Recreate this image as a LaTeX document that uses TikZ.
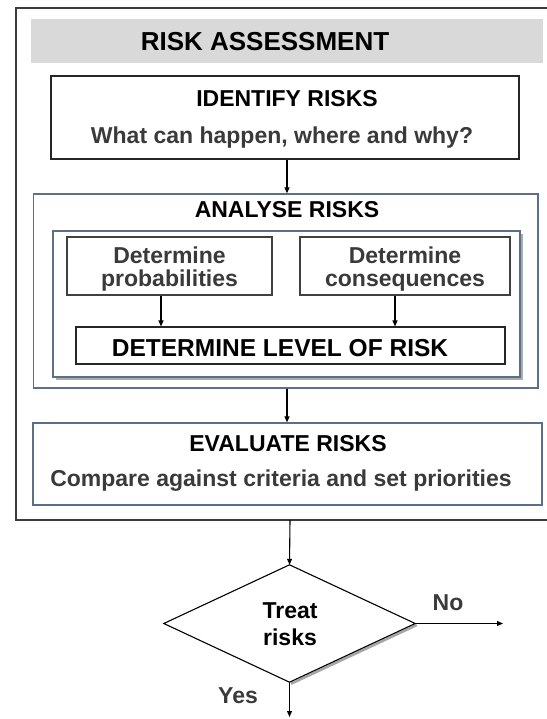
\documentclass[tikz,border=0pt]{standalone}
\usepackage{fontspec}
\setmainfont{Liberation Sans}
\usetikzlibrary{shapes.geometric,arrows.meta,calc}
\definecolor{bgray}{HTML}{5B6F85}
\definecolor{bannergray}{HTML}{D9D9D9}
\definecolor{subtext}{HTML}{3A3A3A}
\definecolor{framegray}{HTML}{3C3C3C}
\tikzset{
  txt/.style={font=\fontsize{23}{27}\selectfont\bfseries, inner sep=0pt, anchor=base},
  subtxt/.style={txt, text=subtext},
  blackbox/.style={draw=black!85, line width=1.1pt, inner sep=0pt, fill=white},
  bluebox/.style={draw=bgray, line width=1.3pt, inner sep=0pt, fill=white},
  arr/.style={line width=1.1pt, -{Triangle[length=6pt,width=5pt]}},
}
\begin{document}
\begin{tikzpicture}[x=1pt,y=-1pt]
\useasboundingbox (0,0) rectangle (546,719);
% outer frame (right side cut off)
\draw[framegray, line width=1.4pt] (560,8) -- (16,8) -- (16,520) -- (560,520);
\coordinate (framebot) at (290,520);
% banner
\node[fill=bannergray, inner sep=0pt, minimum width=512pt, minimum height=44pt] (banner) at (287,41) {};
\node[txt, font=\fontsize{26}{30}\selectfont\bfseries] (bannertxt) at (265,51) {RISK ASSESSMENT};
% identify
\node[blackbox, minimum width=468pt, minimum height=83pt] (ident) at (285,117.5) {};
\node[txt] (identt) at (287,107) {IDENTIFY RISKS};
\node[subtxt] (idents) at (282,144) {What can happen, where and why?};
% analyse
\node[bluebox, minimum width=504.5pt, minimum height=194pt] (analyse) at (285.75,291) {};
\node[txt] (analyset) at (287,218) {ANALYSE RISKS};
\draw[gray!65, line width=2.6pt] (56,379) -- (522,379) -- (522,234);
\node[bluebox, minimum width=467pt, minimum height=146pt] (inner) at (286.5,304) {};
\node[blackbox, draw=black!75, minimum width=205pt, minimum height=58pt] (prob) at (169.5,266) {};
\node[subtxt] (probt1) at (169.5,263) {Determine};
\node[subtxt] (probt2) at (169.5,286) {probabilities};
\node[blackbox, draw=black!75, minimum width=210pt, minimum height=58pt] (cons) at (405,266) {};
\node[subtxt] (const1) at (405,263) {Determine};
\node[subtxt] (const2) at (405,286) {consequences};
\node[blackbox, minimum width=429pt, minimum height=37pt] (level) at (290.5,345.5) {};
\node[txt, font=\fontsize{24.5}{28}\selectfont\bfseries] (levelt) at (280,356) {DETERMINE LEVEL OF RISK};
% evaluate
\node[bluebox, minimum width=509pt, minimum height=82pt] (eval) at (287.5,464) {};
\node[txt] (evalt) at (288,451) {EVALUATE RISKS};
\node[subtxt] (evals) at (281,486) {Compare against criteria and set priorities};
% decision
\node[diamond, inner sep=0pt, minimum width=251pt, minimum height=117pt] (dia) at (289.5,623.5) {};
\draw[gray!70, line width=2.6pt] ($(dia.south)+(1.5,1.5)$) -- ($(dia.east)+(1.5,1.5)$);
\draw[black, line width=1.1pt, fill=white] (dia.north) -- (dia.east) -- (dia.south) -- (dia.west) -- cycle;
\node[txt] (diat1) at (290,618) {Treat};
\node[txt] (diat2) at (290,645) {risks};
\node[subtxt] (nolab) at (448,610) {No};
\node[subtxt] (yeslab) at (238,703) {Yes};
\coordinate (noend) at (503,623.5);
\coordinate (yesend) at (289.5,717);
% connectors
\coordinate (ax) at (287,0);
\draw[arr] (ident.south -| ax) -- (analyse.north -| ax);
\draw[arr] (analyse.south -| ax) -- (eval.north -| ax);
\coordinate (px) at (161,0);
\coordinate (cx) at (395,0);
\draw[arr] (prob.south -| px) -- (level.north -| px);
\draw[arr] (cons.south -| cx) -- (level.north -| cx);
\draw[arr] (framebot) -- (dia.north);
\draw[arr] (dia.east) -- (noend);
\draw[arr] (dia.south) -- (yesend);
\end{tikzpicture}
\end{document}
